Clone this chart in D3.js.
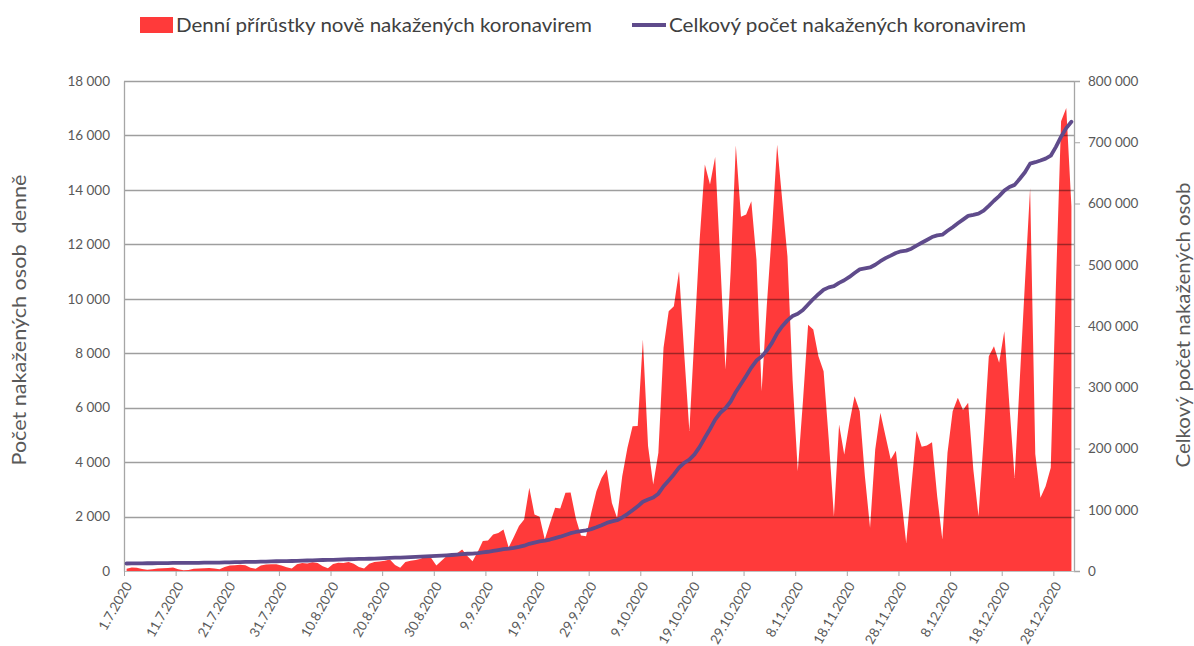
<!DOCTYPE html>
<html><head><meta charset="utf-8">
<script src="https://cdn.jsdelivr.net/npm/d3@7"></script>
<style>body{margin:0;background:#fff}svg{display:block}</style>
</head><body>
<svg id="chart" width="1194" height="646"></svg>
<script>
const firstDay = "2020-07-01";
const lastBoundary = "2021-01-01";
const dailyCases = [
 80,130,120,70,50,60,90,
 100,110,130,60,30,40,80,
 90,100,110,90,60,150,200,
 210,230,210,120,80,200,240,
 250,250,200,140,90,250,290,
 280,320,290,170,100,260,300,
 290,330,270,150,90,270,330,
 350,380,420,220,120,330,380,
 400,450,560,480,200,380,550,
 600,650,790,550,360,700,1100,
 1120,1340,1400,1520,860,1250,1650,
 1890,3060,2080,1990,1160,1750,2320,
 2300,2870,2880,1950,1300,1280,2140,
 2930,3420,3730,2500,1950,3480,4520,
 5320,5330,8500,4590,3180,4340,8200,
 9540,9730,11010,8000,5140,8700,12180,
 14930,14200,15210,11320,7400,11000,15630,
 13010,13100,13580,11440,6600,9750,12500,
 15660,13600,11560,7000,3660,6240,9050,
 8870,7890,7340,4830,2000,5380,4280,
 5440,6420,5870,3480,1590,4460,5810,
 4950,4100,4420,2750,1030,3110,5140,
 4560,4610,4730,2750,1160,4340,5870,
 6360,5910,6180,3730,2010,4830,7890,
 8260,7650,8810,6050,3420,7030,10600,
 14070,4300,2690,3110,3790,10500,16520,
 17010,13400
];
const totalCases = [
 12250,12380,12500,12570,12620,12680,12770,
 12870,12980,13110,13170,13200,13240,13320,
 13410,13510,13620,13710,13770,13920,14120,
 14330,14560,14770,14890,14970,15170,15410,
 15660,15910,16110,16250,16340,16590,16880,
 17160,17480,17770,17940,18040,18300,18600,
 18890,19220,19490,19640,19730,20000,20330,
 20680,21060,21480,21700,21820,22150,22530,
 22930,23380,23940,24420,24620,25000,25550,
 26150,26800,27590,28140,28500,29200,30300,
 31420,32760,34160,35680,36540,37790,39440,
 41330,44390,46470,48460,49620,51370,53690,
 55990,58860,61740,63690,64990,66270,68410,
 71340,74760,78490,80990,82940,87420,92940,
 99260,105590,113090,116680,119860,126200,138400,
 147940,157670,168680,176680,181820,190520,202700,
 217630,231830,247040,258360,265760,276760,292390,
 305400,318500,332080,343520,350120,359870,372370,
 388030,399630,409190,416190,419850,426090,435140,
 444010,451900,459240,463070,465070,470450,474730,
 480170,486590,492460,493940,495530,499990,505800,
 510750,514850,519270,522020,523050,526160,531300,
 535860,540470,545200,547950,549110,555450,561320,
 567680,573590,579770,581500,583510,588340,596230,
 604490,612140,620950,627000,630420,640450,651050,
 665120,667420,670110,673220,678010,692510,709030,
 723040,733440
];
const leftTicks = [0,2000,4000,6000,8000,10000,12000,14000,16000,18000];
const rightTicks = [0,100000,200000,300000,400000,500000,600000,700000,800000];
const dateTickLabels = ["1.7.2020","11.7.2020","21.7.2020","31.7.2020","10.8.2020","20.8.2020","30.8.2020","9.9.2020","19.9.2020","29.9.2020","9.10.2020","19.10.2020","29.10.2020","8.11.2020","18.11.2020","28.11.2020","8.12.2020","18.12.2020","28.12.2020"];
const seriesNames = ["Denní přírůstky nově nakažených koronavirem","Celkový počet nakažených koronavirem"];
const axisTitles = ["Počet nakažených osob  denně","Celkový počet nakažených osob"];

const FONT = "Lato, 'Open Sans', sans-serif";
const RED = "#ff3a3a", PURPLE = "#5f4b8b", TXT = "#595959";
const svg = d3.select("#chart");

const t0 = new Date(firstDay + "T00:00:00Z");
const t1 = new Date(lastBoundary + "T00:00:00Z");
const x = d3.scaleUtc().domain([t0, t1]).range([124, 1074]);
const yL = d3.scaleLinear().domain([0, 18000]).range([571, 81]);
const yR = d3.scaleLinear().domain([0, 800000]).range([571, 81]);
const loc = d3.formatLocale({decimal: ",", thousands: "\u00a0", grouping: [3], currency: ["", ""]});
const fmt = loc.format(",");

const rows = dailyCases.map((v, i) => ({
  date: new Date(t0.getTime() + (i + 0.5) * 86400000),
  daily: v,
  total: totalCases[i]
}));

// area
svg.append("path").datum(rows)
  .attr("fill", RED)
  .attr("d", d3.area().x(d => x(d.date)).y0(yL(0)).y1(d => yL(d.daily)));

// gridlines
svg.append("g").selectAll("line").data(leftTicks.filter(t => t > 0)).join("line")
  .attr("x1", 124).attr("x2", 1074)
  .attr("y1", d => Math.round(yL(d)) + 0.5).attr("y2", d => Math.round(yL(d)) + 0.5)
  .attr("stroke", "#000").attr("stroke-opacity", 0.38).attr("stroke-width", 1.3);

// left axis
const gL = svg.append("g").attr("transform", "translate(124,0)")
  .call(d3.axisLeft(yL).tickValues(leftTicks).tickSize(0).tickPadding(14).tickFormat(fmt));
gL.select(".domain").attr("stroke", "#a6a6a6").attr("stroke-width", 1.3);
gL.selectAll("text").attr("font-family", FONT).attr("font-size", 13.5).attr("fill", TXT);

// right axis
const gR = svg.append("g").attr("transform", "translate(1074,0)")
  .call(d3.axisRight(yR).tickValues(rightTicks).tickSize(6).tickPadding(8).tickFormat(fmt));
gR.select(".domain").attr("stroke", "#a6a6a6").attr("stroke-width", 1.3);
gR.selectAll("line").attr("stroke", "#a6a6a6");
gR.selectAll("text").attr("font-family", FONT).attr("font-size", 13.5).attr("fill", TXT);

// bottom axis
const tickDates = dateTickLabels.map(s => { const p = s.split("."); return new Date(Date.UTC(+p[2], +p[1] - 1, +p[0])); });
const gB = svg.append("g").attr("transform", "translate(0,571)")
  .call(d3.axisBottom(x).tickValues(tickDates).tickSize(5).tickSizeOuter(0).tickFormat((d, i) => dateTickLabels[i]));
gB.select(".domain").attr("stroke", "#bfbfbf").attr("stroke-width", 1);
gB.selectAll(".tick line").attr("stroke", "#a6a6a6");
gB.selectAll("text")
  .attr("font-family", FONT).attr("font-size", 13.5).attr("fill", TXT)
  .attr("text-anchor", "end").attr("dy", "0.35em").attr("y", 0)
  .attr("transform", "translate(4,12) rotate(-60)");

// line
svg.append("path").datum(rows)
  .attr("fill", "none").attr("stroke", PURPLE).attr("stroke-width", 3.8)
  .attr("stroke-linejoin", "round").attr("stroke-linecap", "round")
  .attr("d", d3.line().x(d => x(d.date)).y(d => yR(d.total)));

// axis titles
svg.append("text").attr("transform", "translate(26,320) rotate(-90)")
  .attr("text-anchor", "middle").style("white-space", "pre")
  .attr("font-family", FONT).attr("font-size", 19).attr("fill", TXT)
  .attr("textLength", 291).attr("lengthAdjust", "spacingAndGlyphs")
  .text(axisTitles[0]);
svg.append("text").attr("transform", "translate(1190,325) rotate(-90)")
  .attr("text-anchor", "middle")
  .attr("font-family", FONT).attr("font-size", 19).attr("fill", TXT)
  .attr("textLength", 285).attr("lengthAdjust", "spacingAndGlyphs")
  .text(axisTitles[1]);

// legend
const lg = svg.append("g");
lg.append("rect").attr("x", 140).attr("y", 17).attr("width", 33).attr("height", 16).attr("fill", RED);
lg.append("text").attr("x", 176).attr("y", 32)
  .attr("font-family", FONT).attr("font-size", 19).attr("fill", "#404040")
  .attr("textLength", 416).attr("lengthAdjust", "spacingAndGlyphs")
  .text(seriesNames[0]);
lg.append("line").attr("x1", 632).attr("x2", 666).attr("y1", 25).attr("y2", 25)
  .attr("stroke", PURPLE).attr("stroke-width", 4);
lg.append("text").attr("x", 669).attr("y", 32)
  .attr("font-family", FONT).attr("font-size", 19).attr("fill", "#404040")
  .attr("textLength", 357).attr("lengthAdjust", "spacingAndGlyphs")
  .text(seriesNames[1]);
</script>
</body></html>
